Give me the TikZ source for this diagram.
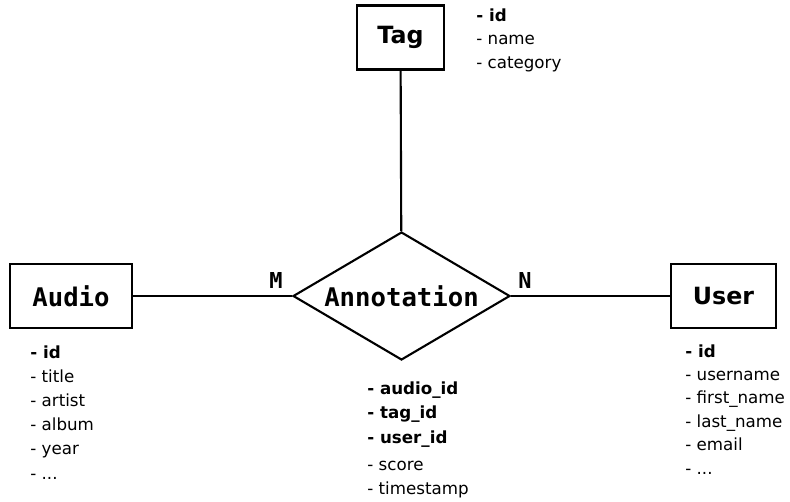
\documentclass[tikz,border=0pt]{standalone}
\usepackage{fontspec}
\setmainfont{DejaVu Sans}
\newfontfamily\erfont{DejaVu Sans Mono}
\usetikzlibrary{shapes.geometric,positioning}

\tikzset{
  entity/.style={draw, line width=1.2pt, minimum height=1.28cm, inner sep=2pt,
    font=\erfont\bfseries\fontsize{14.6}{16}\selectfont},
  sansname/.style={font=\bfseries\fontsize{13.5}{16}\selectfont},
  relation/.style={draw, diamond, line width=1.2pt, aspect=1.7, inner sep=0pt,
    minimum width=4.34cm, minimum height=2.56cm,
    font=\erfont\bfseries\fontsize{14.6}{16}\selectfont},
  attr/.style={anchor=base west, inner sep=0pt, font=\fontsize{9.5}{11}\selectfont},
  keyattr/.style={attr, font=\bfseries\fontsize{9.5}{11}\selectfont},
  card/.style={inner sep=0pt, font=\erfont\bfseries\fontsize{12.5}{14}\selectfont},
  link/.style={line width=1.2pt},
}

\begin{document}
\begin{tikzpicture}[x=0.02cm, y=-0.02cm]
  \useasboundingbox (0,0) rectangle (790,501);

  % Entities and relation
  \node[entity, sansname, minimum width=1.74cm] (tag) at (400.5,37.5) {Tag};
  \node[relation] (ann) at (401.5,296) {Annotation};
  \node[entity, minimum width=2.44cm] (audio) at (71,296) {Audio};
  \node[entity, sansname, minimum width=2.1cm] (user) at (723.5,296) {User};

  % Connectors
  \draw[link] (tag) -- (ann);
  \draw[link] (audio) -- (ann);
  \draw[link] (ann) -- (user);

  % Cardinalities
  \node[card] (m) at (276,280) {M};
  \node[card] (n) at (525,280) {N};

  % Tag attributes
  \node[keyattr] (tagkey) at (476,21) {- id};
  \foreach \t [count=\i] in {name,category}
    \node[attr] (tag\i) at (476,21+23.5*\i) {- \t};

  % Audio attributes
  \node[keyattr] (audkey) at (30,358) {- id};
  \foreach \t [count=\i] in {title,artist,album,year,{.\kern0pt.\kern0pt.}}
    \node[attr] (aud\i) at (30,358+24.2*\i) {- \t};

  % Annotation attributes
  \foreach \t [count=\i] in {audio\_id,tag\_id,user\_id}
    \node[keyattr] (annkey\i) at (367,369.5+24.5*\i) {- \t};
  \foreach \t [count=\i] in {score,timestamp}
    \node[attr] (ann\i) at (367,446+24*\i) {- \t};

  % User attributes
  \node[keyattr] (userkey) at (685,357) {- id};
  \foreach \t [count=\i] in {username,first\_name,last\_name,email,{.\kern0pt.\kern0pt.}}
    \node[attr] (user\i) at (685,357+23.4*\i) {- \t};
\end{tikzpicture}
\end{document}
